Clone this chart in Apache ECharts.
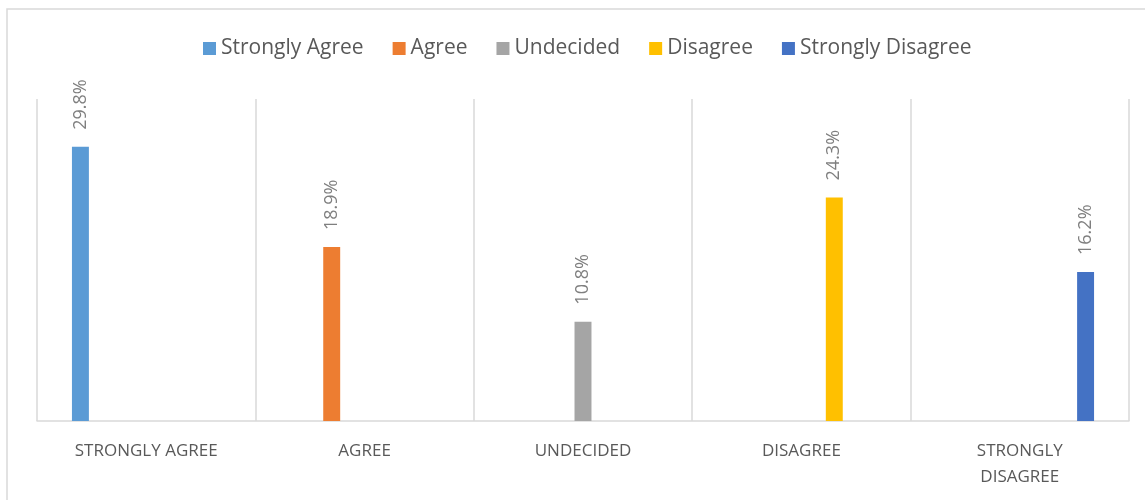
<!DOCTYPE html>
<html>
<head>
<meta charset="utf-8">
<script src="https://cdn.jsdelivr.net/npm/echarts@6/dist/echarts.min.js"></script>
<style>
  html, body { margin: 0; padding: 0; background: #fff; }
  #chart { width: 1145px; height: 500px; }
</style>
</head>
<body>
<div id="chart"></div>
<script>
// categories along the x axis
const categories = ['STRONGLY AGREE', 'AGREE', 'UNDECIDED', 'DISAGREE', 'STRONGLY DISAGREE']
// legend / series names
const seriesNames = ['Strongly Agree', 'Agree', 'Undecided', 'Disagree', 'Strongly Disagree']
// percentage per response (each series only has its own category)
const percentages = [29.8, 18.9, 10.8, 24.3, 16.2]
const colors = ['#5B9BD5', '#ED7D31', '#A5A5A5', '#FFC000', '#4472C4']

const chart = echarts.init(document.getElementById('chart'))

const font = '"Open Sans", "Noto Sans", sans-serif'

// one series per response, value only in the matching category
const series = seriesNames.map((name, i) => {
  const data = categories.map((c, j) => (j === i ? percentages[i] : null))
  return {
    name: name,
    type: 'bar',
    data: data,
    barGap: '94%',
    barCategoryGap: '32%',
    itemStyle: { color: colors[i] },
    label: {
      show: true,
      position: 'top',
      rotate: 90,
      align: 'left',
      verticalAlign: 'middle',
      distance: 17,
      color: '#7F7F7F',
      fontFamily: font,
      fontSize: 18,
      formatter: (p) => p.value.toFixed(1) + '%'
    }
  }
})

const option = {
  animation: false,
  backgroundColor: '#fff',
  color: colors,
  graphic: [
    {
      type: 'rect',
      shape: { x: 7, y: 9, width: 1160, height: 520 },
      style: { fill: 'none', stroke: '#D9D9D9', lineWidth: 1.5 },
      silent: true
    }
  ],
  legend: {
    left: 198,
    top: 33,
    itemWidth: 13,
    itemHeight: 13,
    itemGap: 29,
    icon: 'rect',
    textStyle: { color: '#595959', fontSize: 21, fontFamily: font }
  },
  grid: {
    left: 37,
    right: 16,
    top: 99,
    bottom: 79,
    containLabel: false
  },
  xAxis: {
    type: 'category',
    data: categories,
    axisLine: { show: true, lineStyle: { color: '#D9D9D9', width: 1.5 } },
    axisTick: { show: false },
    splitLine: { show: true, lineStyle: { color: '#D9D9D9', width: 1.5 } },
    axisLabel: {
      color: '#595959',
      fontSize: 17,
      fontFamily: font,
      margin: 17,
      lineHeight: 26,
      interval: 0,
      formatter: (v) => v.replace('STRONGLY DISAGREE', 'STRONGLY\nDISAGREE')
    }
  },
  yAxis: {
    type: 'value',
    min: 0,
    max: 35,
    axisLabel: { show: false },
    axisLine: { show: false },
    axisTick: { show: false },
    splitLine: { show: false }
  },
  series: series
}

chart.setOption(option)
</script>
</body>
</html>
